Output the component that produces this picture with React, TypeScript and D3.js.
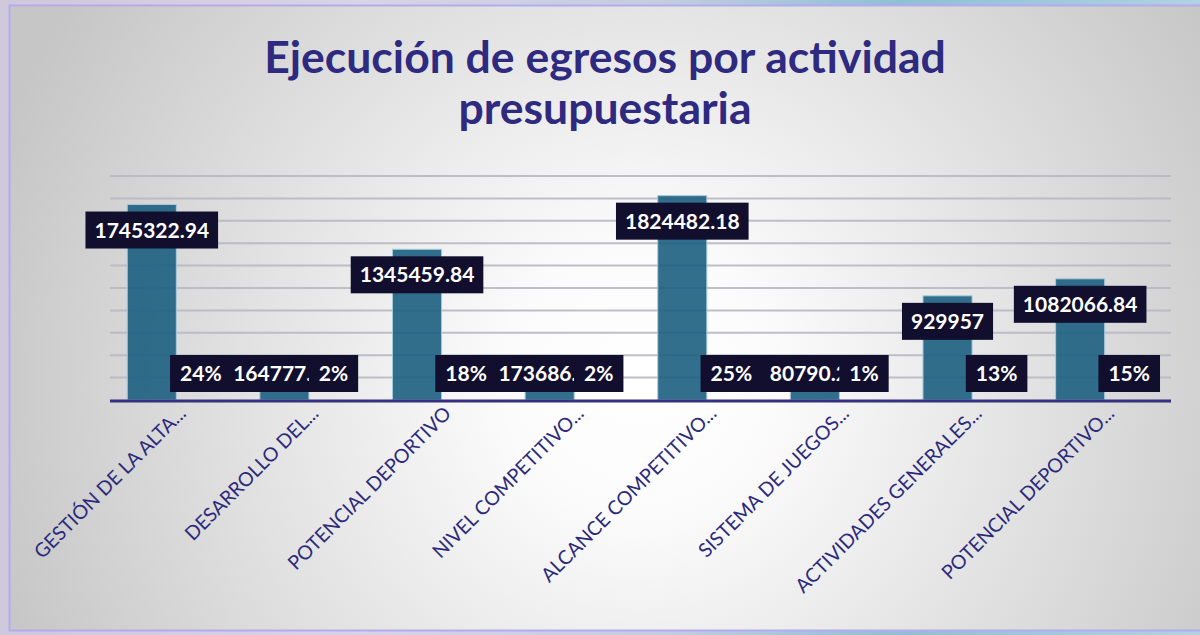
import React, { useEffect, useRef } from "react";
import * as d3 from "d3";

const categories = [
  "GESTIÓN DE LA ALTA...",
  "DESARROLLO DEL...",
  "POTENCIAL DEPORTIVO",
  "NIVEL COMPETITIVO...",
  "ALCANCE COMPETITIVO...",
  "SISTEMA DE JUEGOS...",
  "ACTIVIDADES GENERALES...",
  "POTENCIAL DEPORTIVO...",
];
const amounts = [1745322.94, 164777.86, 1345459.84, 173686.25, 1824482.18, 80790.21, 929957, 1082066.84];
const shares = [0.24, 0.02, 0.18, 0.02, 0.25, 0.01, 0.13, 0.15];
const shareLabels = ["24%", "2%", "18%", "2%", "25%", "1%", "13%", "15%"];
const yTicks = [0, 200000, 400000, 600000, 800000, 1000000, 1200000, 1400000, 1600000, 1800000, 2000000];
const titleLines = ["Ejecución de egresos por actividad", "presupuestaria"];

const W = 1200;
const H = 635;
const FONT = "Lato, 'Open Sans', sans-serif";

export default function App() {
  const ref = useRef<SVGSVGElement | null>(null);

  useEffect(() => {
    const svg = d3.select(ref.current);
    svg.selectAll("*").remove();

    const defs = svg.append("defs");
    const bgGrad = defs.append("linearGradient").attr("id", "outer").attr("x1", "0").attr("x2", "1").attr("y1", "0").attr("y2", "0");
    [["0", "#cfc8dc"], ["0.3", "#d9d3e6"], ["0.55", "#c4cde0"], ["0.75", "#8fbfd6"], ["1", "#b2d2e2"]].forEach(([o, c]) =>
      bgGrad.append("stop").attr("offset", o).attr("stop-color", c)
    );
    const rg = defs.append("radialGradient").attr("id", "panel").attr("gradientUnits", "userSpaceOnUse")
      .attr("cx", 640).attr("cy", 380).attr("r", 680);
    [["0", "#ffffff"], ["0.2", "#fbfbfb"], ["1", "#c6c6c6"]].forEach(([o, c]) =>
      rg.append("stop").attr("offset", o).attr("stop-color", c)
    );

    svg.append("rect").attr("width", W).attr("height", H).attr("fill", "url(#outer)");
    svg.append("rect").attr("x", 9.5).attr("y", 5.5).attr("width", 1200).attr("height", 625)
      .attr("fill", "url(#panel)").attr("stroke", "#b4abee").attr("stroke-width", 2);

    // title
    const title = svg.append("text").attr("text-anchor", "middle").attr("font-family", FONT)
      .attr("font-weight", 700).attr("font-size", 44.5).attr("fill", "#2e2a80");
    title.selectAll("tspan").data(titleLines).join("tspan")
      .attr("x", 605).attr("y", (_d, i) => 73 + i * 51).text((d) => d);

    const left = 110, right = 1171, top = 176, bottom = 400;
    const x = d3.scaleBand<string>().domain(categories).range([left, right]).paddingInner(0.26).paddingOuter(0.13);
    const sub = d3.scaleBand<string>().domain(["amount", "share"]).range([0, x.bandwidth()]);
    const y = d3.scaleLinear().domain([0, 2000000]).range([bottom, top]);

    // gridlines
    svg.append("g").selectAll("line").data(yTicks.filter((t) => t > 0)).join("line")
      .attr("x1", left).attr("x2", right).attr("y1", (d) => y(d)).attr("y2", (d) => y(d))
      .attr("stroke", "#b9b9c4").attr("stroke-width", 2).attr("opacity", 0.9);

    // bars
    const bars = svg.append("g");
    bars.selectAll("rect.a").data(categories).join("rect").attr("class", "a")
      .attr("x", (d) => (x(d) as number) + (sub("amount") as number))
      .attr("width", sub.bandwidth())
      .attr("y", (_d, i) => y(amounts[i]))
      .attr("height", (_d, i) => bottom - y(amounts[i]))
      .attr("fill", "#1c5f81").attr("fill-opacity", 0.9)
      .attr("stroke", "#a9c9da").attr("stroke-width", 1);
    bars.selectAll("rect.s").data(categories).join("rect").attr("class", "s")
      .attr("x", (d) => (x(d) as number) + (sub("share") as number))
      .attr("width", sub.bandwidth())
      .attr("y", (_d, i) => y(shares[i]))
      .attr("height", (_d, i) => bottom - y(shares[i]))
      .attr("fill", "#1c5f81");

    // axis line
    svg.append("line").attr("x1", left).attr("x2", right).attr("y1", bottom + 1).attr("y2", bottom + 1)
      .attr("stroke", "#35307f").attr("stroke-width", 3);

    // category labels
    svg.append("g").selectAll("text").data(categories).join("text")
      .attr("transform", (d) => `translate(${(x(d) as number) + x.bandwidth() / 2 + 6},${bottom + 10}) rotate(-45)`)
      .attr("text-anchor", "end").attr("dy", "0.35em")
      .attr("font-family", FONT).attr("font-size", 19.5).attr("fill", "#2b2a7c")
      .text((d) => d);

    const boxH = 37;
    const labelG = svg.append("g");
    const drawLabel = (cx: number, topY: number, txt: string, pad: number) => {
      const g = labelG.append("g");
      const rect = g.append("rect").attr("fill", "#120e2e");
      const t = g.append("text").attr("x", cx).attr("y", topY + boxH / 2).attr("dy", "0.36em")
        .attr("text-anchor", "middle").attr("font-family", FONT).attr("font-weight", 700)
        .attr("font-size", 21).attr("fill", "#ffffff").text(txt);
      const w = (t.node() as SVGTextElement).getComputedTextLength() + pad * 2;
      rect.attr("x", cx - w / 2).attr("y", topY).attr("width", w).attr("height", boxH);
    };
    categories.forEach((c, i) => {
      const cx = (x(c) as number) + (sub("amount") as number) + sub.bandwidth() / 2;
      const topY = Math.min(y(amounts[i]) + 7, bottom - 8 - boxH);
      drawLabel(cx, topY, String(amounts[i]), 9);
    });
    categories.forEach((c, i) => {
      const cx = (x(c) as number) + (sub("share") as number) + sub.bandwidth() / 2;
      const topY = Math.min(y(shares[i]) + 7, bottom - 8 - boxH);
      drawLabel(cx, topY, shareLabels[i], 10);
    });
  }, []);

  return (
    <svg ref={ref} width={W} height={H} style={{ position: "absolute", left: 0, top: 0, display: "block" }} />
  );
}
